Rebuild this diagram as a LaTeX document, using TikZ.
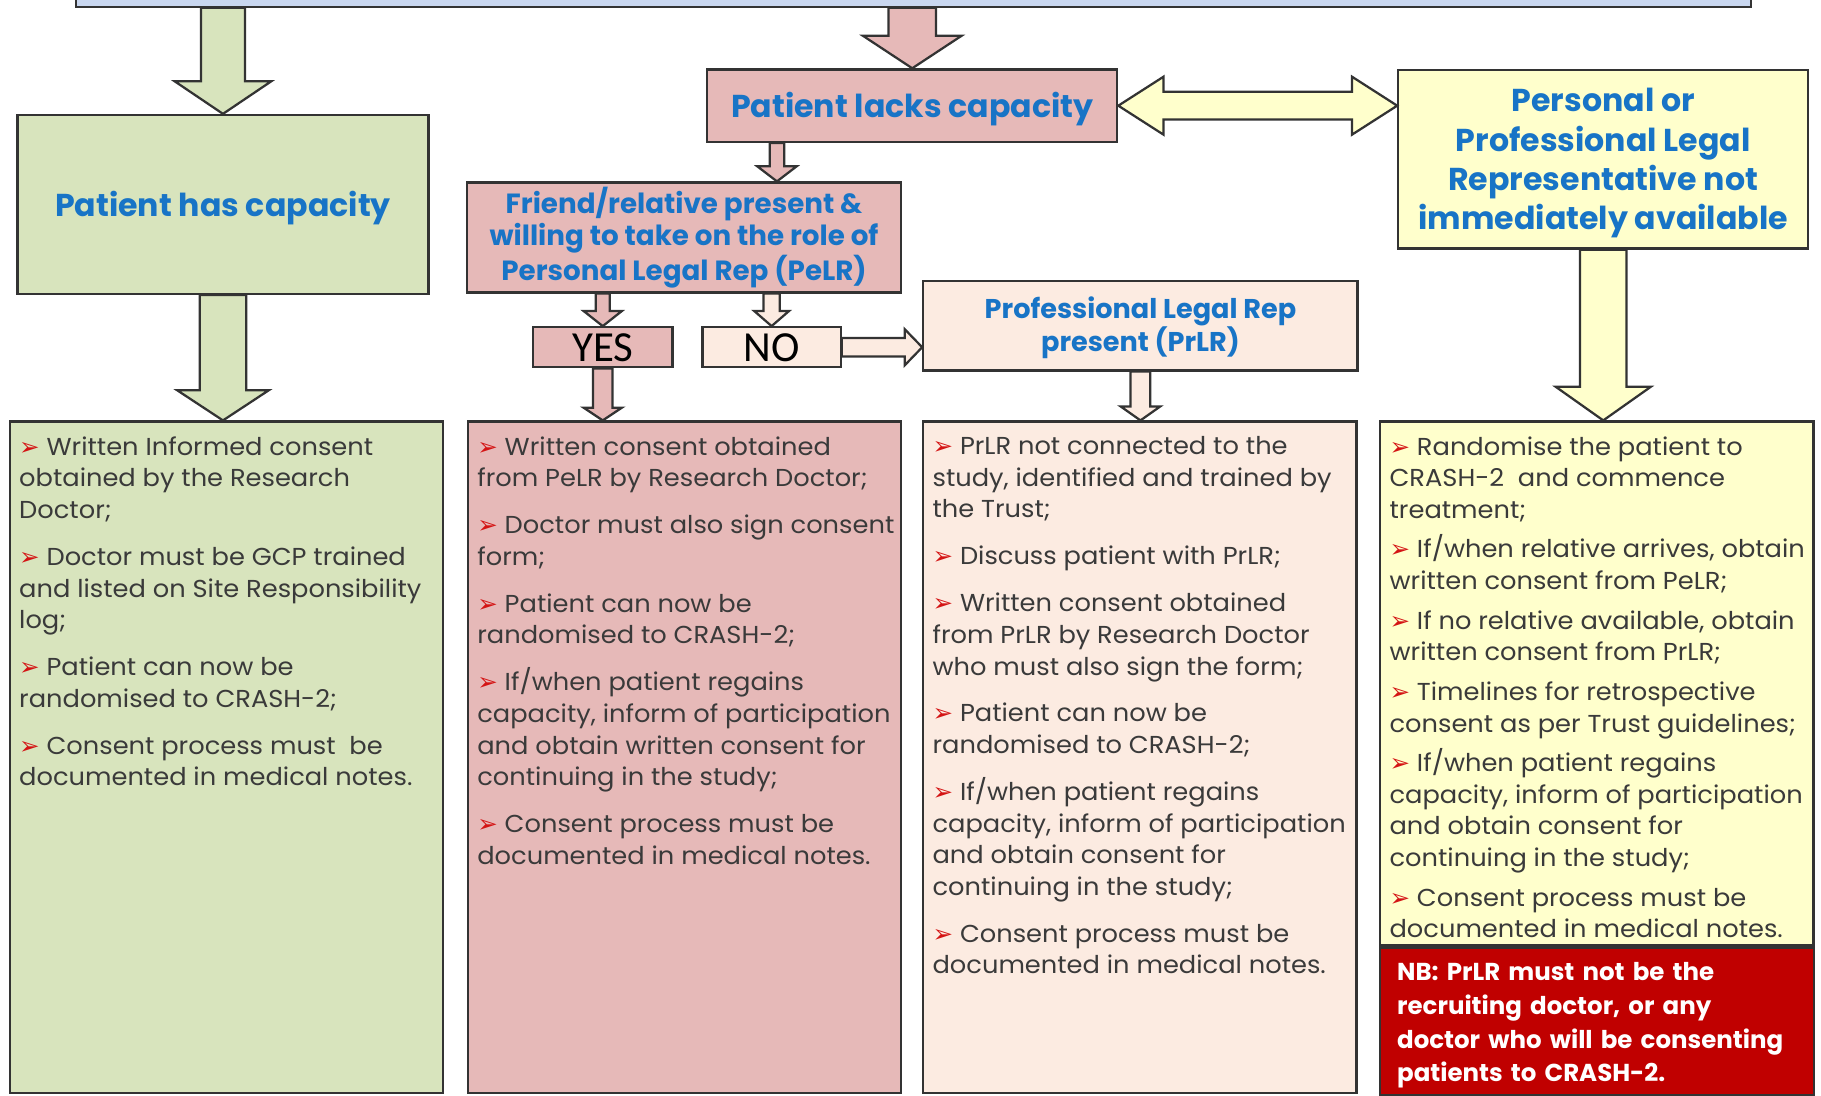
\documentclass[tikz,border=0pt]{standalone}
\usepackage{fontspec}
\setmainfont{Poppins}
\newfontfamily\listfont[FakeStretch=1.05]{Poppins}
\newfontfamily\calibfont{Carlito}
\newfontfamily\symfont{DejaVu Sans}
\usetikzlibrary{calc, positioning}

\definecolor{edgegray}{HTML}{333333}
\definecolor{titleblue}{HTML}{1874C6}
\definecolor{textgray}{HTML}{3A3A3A}
\definecolor{topblue}{HTML}{C9D7F0}
\definecolor{hasgreen}{HTML}{D8E4BD}
\definecolor{lackpink}{HTML}{E6B9B8}
\definecolor{nopink}{HTML}{FCEBE1}
\definecolor{repyellow}{HTML}{FFFFCC}
\definecolor{nbred}{HTML}{C00000}
\definecolor{bulred}{HTML}{D41414}

\newcommand\bul{{\color{bulred}\symfont\fontsize{12}{12}\selectfont ➢}\ }
% a text column of fixed height, set from its top
\newcommand\column[2]{\makebox[7.14cm][l]{\parbox[t][#1][t]{7.6cm}{\raggedright\vspace*{4.5pt}#2}}}
\def\bodyhw{0.4cm}\def\tiphw{0.8cm}\def\tipl{0.55cm}

\tikzset{
x=0.02cm, y=-0.02cm, % one unit is one pixel of the layout, y runs down
box/.style={draw=edgegray, line width=1.1pt, inner sep=2pt}, % every framed box
heading/.style={box, align=center, text=titleblue, font=\bfseries},
list/.style={box, anchor=north, inner xsep=0.16cm, inner ysep=0.1cm, text=textgray,
  font=\listfont\fontsize{12}{15.5}\selectfont},
bodyw/.store in=\bodyhw, % half width of a block arrow's body
tipw/.store in=\tiphw, % half width of its head
tiplen/.store in=\tipl, % length of its head
barrow/.style={draw=edgegray, line width=1.1pt, line join=miter,
  to path={
    ($(\tikztostart)!\bodyhw!-90:(\tikztotarget)$)
    -- ($($(\tikztotarget)!\tipl!(\tikztostart)$)!\bodyhw!-90:(\tikztotarget)$)
    -- ($($(\tikztotarget)!\tipl!(\tikztostart)$)!\tiphw!-90:(\tikztotarget)$)
    -- (\tikztotarget)
    -- ($($(\tikztotarget)!\tipl!(\tikztostart)$)!\tiphw!90:(\tikztotarget)$)
    -- ($($(\tikztotarget)!\tipl!(\tikztostart)$)!\bodyhw!90:(\tikztotarget)$)
    -- ($(\tikztostart)!\bodyhw!90:(\tikztotarget)$)
    -- cycle}},
darrow/.style={draw=edgegray, line width=1.1pt, line join=miter,
  to path={
    (\tikztostart)
    -- ($($(\tikztostart)!\tipl!(\tikztotarget)$)!\tiphw!-90:(\tikztotarget)$)
    -- ($($(\tikztostart)!\tipl!(\tikztotarget)$)!\bodyhw!-90:(\tikztotarget)$)
    -- ($($(\tikztotarget)!\tipl!(\tikztostart)$)!\bodyhw!-90:(\tikztotarget)$)
    -- ($($(\tikztotarget)!\tipl!(\tikztostart)$)!\tiphw!-90:(\tikztotarget)$)
    -- (\tikztotarget)
    -- ($($(\tikztotarget)!\tipl!(\tikztostart)$)!\tiphw!90:(\tikztotarget)$)
    -- ($($(\tikztotarget)!\tipl!(\tikztostart)$)!\bodyhw!90:(\tikztotarget)$)
    -- ($($(\tikztostart)!\tipl!(\tikztotarget)$)!\bodyhw!90:(\tikztotarget)$)
    -- ($($(\tikztostart)!\tipl!(\tikztotarget)$)!\tiphw!90:(\tikztotarget)$)
    -- cycle}},
}

\begin{document}
\begin{tikzpicture}
  \useasboundingbox (0,0) rectangle (1568,943);
  \clip (0,0) rectangle (1568,943);

  \node[box, fill=topblue, minimum width=28.86cm, minimum height=0.91cm] (top) at (786.5,-17) {};

  \node[heading, fill=hasgreen, minimum width=7.08cm, minimum height=3.08cm,
    font=\bfseries\fontsize{15.5}{18}\selectfont] (has) at (192,176) {\rule{0pt}{16pt}Patient has capacity};
  \node[heading, fill=lackpink, minimum width=7.06cm, minimum height=1.25cm,
    font=\bfseries\fontsize{15.5}{18}\selectfont] (lacks) at (785.5,91) {\rule{0pt}{16pt}Patient lacks capacity};
  \node[heading, fill=repyellow, minimum width=7.06cm, minimum height=3.08cm,
    font=\bfseries\fontsize{15.5}{19.3}\selectfont] (rep) at (1380.5,137)
    {\rule{0pt}{15.5pt}Personal or\\Professional Legal\\Representative not\\immediately available};
  \node[heading, fill=lackpink, minimum width=7.48cm, minimum height=1.88cm,
    font=\bfseries\fontsize{13.6}{16}\selectfont] (friend) at (589,204.5)
    {\rule{0pt}{13pt}Friend/relative present \&\\willing to take on the role of\\Personal Legal Rep (PeLR)};
  \node[box, fill=lackpink, minimum width=2.4cm, minimum height=0.69cm,
    font=\calibfont\fontsize{21}{21}\selectfont] (yes) at (519,299) {YES};
  \node[box, fill=nopink, minimum width=2.38cm, minimum height=0.69cm, right=0.48cm of yes,
    font=\calibfont\fontsize{21}{21}\selectfont] (no) {NO};
  \node[heading, fill=nopink, minimum width=7.48cm, minimum height=1.54cm,
    font=\bfseries\fontsize{13.3}{16}\selectfont] (prlr) at (982,280.5)
    {\rule{0pt}{12.5pt}Professional Legal Rep\\present (PrLR)};

  \node[list, fill=hasgreen] (c1) at (195,362) {\column{11.36cm}{
    \bul Written Informed consent\\obtained by the Research\\Doctor;\\[7.5pt]
    \bul Doctor must be GCP trained\\and listed on Site Responsibility\\log;\\[7.5pt]
    \bul Patient can now be\\randomised to CRASH-2;\\[7.5pt]
    \bul Consent process must\ \ be\\documented in medical notes.}};
  \node[list, fill=lackpink] (c2) at (589.5,362) {\column{11.36cm}{
    \bul Written consent obtained\\from PeLR by Research Doctor;\\[7.5pt]
    \bul Doctor must also sign consent\\form;\\[7.5pt]
    \bul Patient can now be\\randomised to CRASH-2;\\[7.5pt]
    \bul If/when patient regains\\capacity, inform of participation\\and obtain written consent for\\continuing in the study;\\[7.5pt]
    \bul Consent process must be\\documented in medical notes.}};
  \node[list, fill=nopink] (c3) at (981.5,362) {\column{11.36cm}{
    \bul PrLR not connected to the\\study, identified and trained by\\the Trust;\\[7.5pt]
    \bul Discuss patient with PrLR;\\[7.5pt]
    \bul Written consent obtained\\from PrLR by Research Doctor\\who must also sign the form;\\[7.5pt]
    \bul Patient can now be\\randomised to CRASH-2;\\[7.5pt]
    \bul If/when patient regains\\capacity, inform of participation\\and obtain consent for\\continuing in the study;\\[7.5pt]
    \bul Consent process must be\\documented in medical notes.}};
  \node[list, fill=repyellow] (c4) at (1375,362) {\column{8.82cm}{
    \bul Randomise the patient to\\CRASH-2\ \ and commence\\treatment;\\[3.9pt]
    \bul If/when relative arrives, obtain\\written consent from PeLR;\\[3.9pt]
    \bul If no relative available, obtain\\written consent from PrLR;\\[3.9pt]
    \bul Timelines for retrospective\\consent as per Trust guidelines;\\[3.9pt]
    \bul If/when patient regains\\capacity, inform of participation\\and obtain consent for\\continuing in the study;\\[3.9pt]
    \bul Consent process must be\\documented in medical notes.}};
  \node[box, fill=nbred, anchor=north, minimum width=7.48cm, minimum height=2.54cm,
    text width=6.88cm, align=left, text=white,
    font=\bfseries\fontsize{12}{16.5}\selectfont] (nb) at (c4.south)
    {\rule{0pt}{13pt}NB: PrLR must not be the\\recruiting doctor, or any\\doctor who will be consenting\\patients to CRASH-2.};

  \coordinate (fa) at ($(friend.north)+(80,0)$);

  \draw[barrow, fill=hasgreen, bodyw=0.38cm, tipw=0.83cm, tiplen=0.56cm] (has.north |- top.south) to (has.north);
  \draw[barrow, fill=hasgreen, bodyw=0.4cm, tipw=0.79cm, tiplen=0.52cm] (has.south) to (has.south |- c1.north);
  \draw[barrow, fill=lackpink, bodyw=0.41cm, tipw=0.85cm, tiplen=0.56cm] (lacks.north |- top.south) to (lacks.north);
  \draw[barrow, fill=lackpink, bodyw=0.125cm, tipw=0.34cm, tiplen=0.26cm] (fa |- lacks.south) to (fa);
  \draw[barrow, fill=lackpink, bodyw=0.12cm, tipw=0.33cm, tiplen=0.26cm] (yes.north |- friend.south) to (yes.north);
  \draw[barrow, fill=nopink, bodyw=0.14cm, tipw=0.3cm, tiplen=0.26cm] (no.north |- friend.south) to (no.north);
  \draw[barrow, fill=lackpink, bodyw=0.17cm, tipw=0.33cm, tiplen=0.22cm] (yes.south) to (yes.south |- c2.north);
  \draw[barrow, fill=nopink, bodyw=0.16cm, tipw=0.31cm, tiplen=0.3cm] (no.east) to (no.east -| prlr.west);
  \draw[barrow, fill=nopink, bodyw=0.17cm, tipw=0.34cm, tiplen=0.24cm] (prlr.south) to (prlr.south |- c3.north);
  \draw[barrow, fill=repyellow, bodyw=0.4cm, tipw=0.82cm, tiplen=0.58cm] (rep.south) to (rep.south |- c4.north);
  \draw[darrow, fill=repyellow, bodyw=0.24cm, tipw=0.5cm, tiplen=0.78cm] (lacks.east) to (lacks.east -| rep.west);
\end{tikzpicture}
\end{document}
